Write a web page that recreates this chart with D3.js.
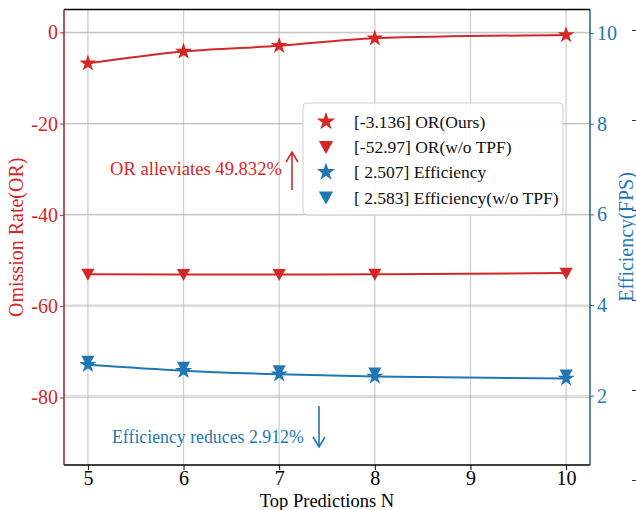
<!DOCTYPE html>
<html lang="en">
<head>
    <meta charset="UTF-8" />
    <title>Omission Rate vs Efficiency</title>
    <script src="https://d3js.org/d3.v7.min.js"></script>
    <style>
        body { margin: 0; background: #fff; }
        text { font-family: "Liberation Serif", "DejaVu Serif", serif; }
    </style>
</head>
<body>
    <div id="chart"></div>

    <script>
        // dados
        const topN = [5, 6, 7, 8, 10];
        const orOurs = [-6.8, -4.2, -2.95, -1.3, -0.6];
        const orNoTpf = [-53.0, -53.05, -53.05, -53.0, -52.75];
        const effOurs = [2.68, 2.55, 2.47, 2.42, 2.38];
        const effNoTpf = [2.76, 2.63, 2.55, 2.50, 2.46];
        const legendLabels = ["[-3.136] OR(Ours)", "[-52.97] OR(w/o TPF)", "[ 2.507] Efficiency", "[ 2.583] Efficiency(w/o TPF)"];
        const xTicks = [5, 6, 7, 8, 9, 10];
        const orTicks = [0, -20, -40, -60, -80];
        const effTicks = [2, 4, 6, 8, 10];
        const extraTicks = [0, 1, 2, 3, 4, 5];

        const width = 636, height = 510;
        const red = "#d62728", blue = "#1f77b4";
        const margin = { left: 64, right: 46, top: 9.5, bottom: 45 };

        const svg = d3.select("#chart").append("svg")
            .attr("width", width)
            .attr("height", height);

        const x = d3.scaleLinear().domain([4.75, 10.25]).range([margin.left, width - margin.right]);
        const yOr = d3.scaleLinear().domain([-94.8, 5]).range([height - margin.bottom, margin.top]);
        const yEff = d3.scaleLinear().domain([0.47, 10.52]).range([height - margin.bottom, margin.top]);
        // eixo extra (cortado na borda direita)
        const yExtra = d3.scaleLinear().domain([0, 5]).range([480, 30]);

        // grade
        const grid = svg.append("g");
        grid.selectAll(".gx").data(xTicks).enter().append("line")
            .attr("x1", d => x(d)).attr("x2", d => x(d))
            .attr("y1", margin.top).attr("y2", height - margin.bottom)
            .attr("stroke", "#b0b0b0").attr("stroke-opacity", 0.6).attr("stroke-width", 1.3);
        grid.selectAll(".gy").data(orTicks).enter().append("line")
            .attr("x1", margin.left).attr("x2", width - margin.right)
            .attr("y1", d => yOr(d)).attr("y2", d => yOr(d))
            .attr("stroke", "#b0b0b0").attr("stroke-opacity", 0.6).attr("stroke-width", 1.3);
        grid.selectAll(".ge").data(effTicks).enter().append("line")
            .attr("x1", margin.left).attr("x2", width - margin.right)
            .attr("y1", d => yEff(d)).attr("y2", d => yEff(d))
            .attr("stroke", "#b0b0b0").attr("stroke-opacity", 0.5).attr("stroke-width", 1.1);

        // eixos
        const xAxis = svg.append("g")
            .attr("transform", `translate(0,${height - margin.bottom})`)
            .call(d3.axisBottom(x).tickValues(xTicks).tickSize(5).tickPadding(1).tickFormat(d3.format("d")));
        xAxis.select(".domain").remove();
        xAxis.selectAll("text").attr("font-size", 20).attr("fill", "#000");

        const orAxis = svg.append("g")
            .attr("transform", `translate(${margin.left},0)`)
            .call(d3.axisLeft(yOr).tickValues(orTicks).tickSize(4).tickPadding(2).tickFormat(d3.format("d")));
        orAxis.select(".domain").remove();
        orAxis.selectAll("line").attr("stroke", red);
        orAxis.selectAll("text").attr("font-size", 20).attr("fill", red).text(d => d === 0 ? "0" : "-" + Math.abs(d));

        const effAxis = svg.append("g")
            .attr("transform", `translate(${width - margin.right},0)`)
            .call(d3.axisRight(yEff).tickValues(effTicks).tickSize(4).tickPadding(3));
        effAxis.select(".domain").remove();
        effAxis.selectAll("line").attr("stroke", blue);
        effAxis.selectAll("text").attr("font-size", 20).attr("fill", blue);

        const extraAxis = svg.append("g")
            .attr("transform", `translate(632,0)`)
            .call(d3.axisRight(yExtra).tickValues(extraTicks).tickSize(5).tickFormat(""));
        extraAxis.select(".domain").remove();
        extraAxis.selectAll("line").attr("stroke", "#333");

        // bordas
        svg.append("line").attr("x1", margin.left).attr("x2", width - margin.right)
            .attr("y1", margin.top).attr("y2", margin.top).attr("stroke", "#000").attr("stroke-width", 1.3);
        svg.append("line").attr("x1", margin.left).attr("x2", width - margin.right)
            .attr("y1", height - margin.bottom).attr("y2", height - margin.bottom).attr("stroke", "#000").attr("stroke-width", 1.3);
        svg.append("line").attr("x1", margin.left).attr("x2", margin.left)
            .attr("y1", margin.top).attr("y2", height - margin.bottom).attr("stroke", "#a02020").attr("stroke-width", 1.5);
        svg.append("line").attr("x1", width - margin.right).attr("x2", width - margin.right)
            .attr("y1", margin.top).attr("y2", height - margin.bottom).attr("stroke", "#1f5f99").attr("stroke-width", 1.5);

        // rótulos dos eixos
        svg.append("text").attr("transform", `translate(23,${(margin.top + height - margin.bottom) / 2}) rotate(-90)`)
            .attr("text-anchor", "middle").attr("font-size", 20).attr("fill", red).text("Omission Rate(OR)");
        svg.append("text").attr("transform", `translate(628,237) rotate(-90)`)
            .attr("text-anchor", "middle").attr("font-size", 20).attr("fill", blue).attr("dominant-baseline", "middle").text("Efficiency(FPS)");
        svg.append("text").attr("x", x(7.5)).attr("y", 506.5)
            .attr("text-anchor", "middle").attr("font-size", 18.5).attr("fill", "#000").text("Top Predictions N");

        // marcadores
        const star = d3.symbol().type(d3.symbolStar).size(90);
        const triDown = s => `M${-s * 0.55},${-s * 0.45}L${s * 0.55},${-s * 0.45}L0,${s * 0.55}Z`;

        const curve = d3.curveMonotoneX;
        const series = [
            { vals: orOurs, y: yOr, color: red, mark: "star", line: true },
            { vals: orNoTpf, y: yOr, color: red, mark: "tri", line: true },
            { vals: effNoTpf, y: yEff, color: blue, mark: "tri", line: false },
            { vals: effOurs, y: yEff, color: blue, mark: "star", line: true }
        ];

        series.filter(s => s.line).forEach(s => {
            const line = d3.line().x((d, i) => x(topN[i])).y(d => s.y(d)).curve(curve);
            svg.append("path").datum(s.vals)
                .attr("d", line).attr("fill", "none")
                .attr("stroke", s.color).attr("stroke-width", 2);
        });
        series.forEach(s => {
            svg.selectAll(null).data(s.vals).enter().append("path")
                .attr("transform", (d, i) => `translate(${x(topN[i])},${s.y(d)})`)
                .attr("d", s.mark === "star" ? star() : triDown(12))
                .attr("fill", s.color);
        });

        // legenda
        const legend = svg.append("g").attr("transform", "translate(303,103)");
        legend.append("rect").attr("width", 260).attr("height", 112).attr("rx", 4)
            .attr("fill", "#fff").attr("fill-opacity", 0.85).attr("stroke", "#d0d0d0");
        const legendItems = [
            { color: red, mark: "star" }, { color: red, mark: "tri" },
            { color: blue, mark: "star" }, { color: blue, mark: "tri" }
        ];
        legendItems.forEach((it, i) => {
            const yy = 18.5 + i * 25.3;
            legend.append("path").attr("transform", `translate(23,${yy})`)
                .attr("d", it.mark === "star" ? d3.symbol().type(d3.symbolStar).size(105)() : triDown(13))
                .attr("fill", it.color);
            legend.append("text").attr("x", 51).attr("y", yy).attr("dy", "0.35em")
                .attr("font-size", 17.5).attr("fill", "#111").text(legendLabels[i]);
        });

        // anotações
        svg.append("text").attr("x", 110).attr("y", 175).attr("font-size", 18.6).attr("fill", red)
            .text("OR alleviates 49.832%");
        svg.append("path").attr("d", "M292,190L292,153M286,162L292,152L298,162")
            .attr("fill", "none").attr("stroke", red).attr("stroke-width", 1.6);
        svg.append("text").attr("x", 112).attr("y", 443).attr("font-size", 17.8).attr("fill", blue)
            .text("Efficiency reduces 2.912%");
        svg.append("path").attr("d", "M319,406L319,446M313,437L319,447L325,437")
            .attr("fill", "none").attr("stroke", blue).attr("stroke-width", 1.6);
    </script>
</body>
</html>
